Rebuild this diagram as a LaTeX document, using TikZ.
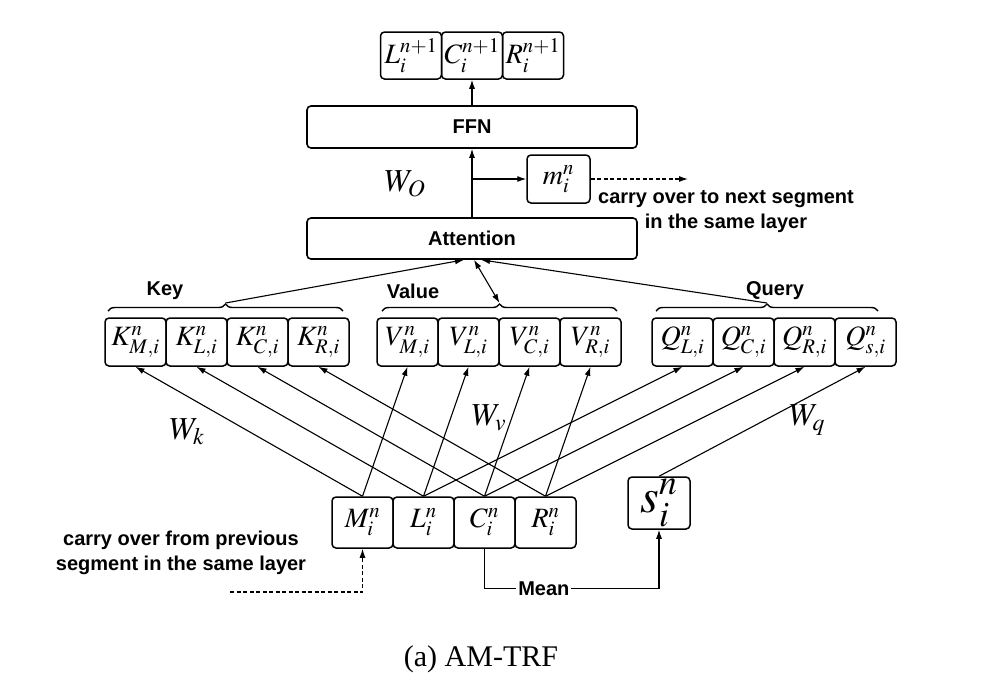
\documentclass[tikz,border=0pt]{standalone}
\usepackage{mathptmx}
\usepackage{fontspec}
\setmainfont{Liberation Serif}
\newfontfamily\lblfont{Liberation Sans}
\usetikzlibrary{arrows.meta,decorations.pathreplacing}
\tikzset{
  cell/.style={draw, line width=1.5pt, rounded corners=4pt, inner sep=0pt, minimum width=61pt, minimum height=48pt},
  widebox/.style={draw, line width=1.6pt, rounded corners=4pt, inner sep=0pt, minimum width=330pt, minimum height=42pt, font=\lblfont\bfseries\fontsize{20}{24}\selectfont},
  lbl/.style={font=\lblfont\bfseries\fontsize{20}{25}\selectfont, inner sep=1pt},
  mth/.style={font=\fontsize{28}{32}\selectfont},
  mthb/.style={font=\fontsize{28}{32}\selectfont},
  mthw/.style={font=\fontsize{32}{36}\selectfont},
  arr/.style={-{Latex[length=9pt,width=6pt]}, line width=1.1pt},
  dblarr/.style={{Latex[length=9pt,width=6pt]}-{Latex[length=9pt,width=6pt]}, line width=1.1pt},
  brc/.style={decorate, decoration={brace,amplitude=7pt}, line width=1.4pt},
  dsh/.style={dash pattern=on 4pt off 2.5pt},
}
\begin{document}
\begin{tikzpicture}[x=1pt,y=-1pt]
\useasboundingbox (0,0) rectangle (985,689);
% top output boxes
\node[cell,mth,minimum height=47pt] (ln1) at (411,55.5) {$L^{n+1}_i$};
\node[cell,mth,minimum height=47pt] (cn1) at (472,55.5) {$C^{n+1}_i$};
\node[cell,mth,minimum height=47pt] (rn1) at (533,55.5) {$R^{n+1}_i$};
% FFN and attention
\node[widebox] (ffn) at (472,127) {FFN};
\node[widebox, minimum height=41pt] (att) at (472,238.5) {Attention};
\node[cell,mth,minimum width=63pt] (mb) at (558.5,179) {$m^n_i$};
\coordinate (mout) at (688,179);
\node[lbl, align=center] (carry1) at (726,212) {carry over to next segment\\in the same layer};
\node[mthw] (wo) at (405,184) {$W_O$};
\draw[arr] (ffn.north) -- (cn1.south);
\draw[arr] (att.north) -- (ffn.south);
\draw[arr] (att.north |- mb.west) -- (mb.west);
\draw[arr, dsh] (mb.east) -- (mout);
% key / value / query boxes
\node[cell,mth] (km) at (135.5,342) {$K^n_{M,i}$};
\node[cell,mth] (kl) at (196.5,342) {$K^n_{L,i}$};
\node[cell,mth] (kc) at (257.5,342) {$K^n_{C,i}$};
\node[cell,mth] (kr) at (318.5,342) {$K^n_{R,i}$};
\node[cell,mth] (vm) at (407.5,342) {$V^n_{M,i}$};
\node[cell,mth] (vl) at (468.5,342) {$V^n_{L,i}$};
\node[cell,mth] (vc) at (529.5,342) {$V^n_{C,i}$};
\node[cell,mth] (vr) at (590.5,342) {$V^n_{R,i}$};
\node[cell,mth] (ql) at (682.5,342) {$Q^n_{L,i}$};
\node[cell,mth] (qc) at (743.5,342) {$Q^n_{C,i}$};
\node[cell,mth] (qr) at (804.5,342) {$Q^n_{R,i}$};
\node[cell,mth] (qs) at (865.5,342) {$Q^n_{s,i}$};
% braces
\coordinate (kb1) at (108,311); \coordinate (kb2) at (343,311);
\coordinate (vb1) at (382,311); \coordinate (vb2) at (617,311);
\coordinate (qb1) at (656,311); \coordinate (qb2) at (878,311);
\coordinate (ktip) at (225.5,303);
\coordinate (vtip) at (499.5,303);
\coordinate (qtip) at (767,303);
\draw[brc] (kb1) -- (kb2);
\draw[brc] (vb1) -- (vb2);
\draw[brc] (qb1) -- (qb2);
\node[lbl] (keyl) at (165,291) {Key};
\node[lbl] (vall) at (413,291) {Value};
\node[lbl] (qryl) at (775,291) {Query};
\draw[arr] (ktip) -- ([xshift=-8pt]att.south);
\draw[dblarr] (vtip) -- ([xshift=2pt]att.south);
\draw[arr] (qtip) -- ([xshift=9pt]att.south);
% bottom input boxes
\node[cell,mthb,minimum height=51pt] (mn) at (362.5,522.5) {$M^n_i$};
\node[cell,mthb,minimum height=51pt] (ln) at (423.5,522.5) {$L^n_i$};
\node[cell,mthb,minimum height=51pt] (cn) at (484.5,522.5) {$C^n_i$};
\node[cell,mthb,minimum height=51pt] (rn) at (545.5,522.5) {$R^n_i$};
\node[cell,minimum width=62pt,minimum height=52pt,font=\fontsize{48}{52}\selectfont] (sb) at (659,503) {$s^n_i$};
% projections
\draw[arr] (mn.north) -- (km.south);
\draw[arr] (mn.north) -- (vm.south);
\draw[arr] (ln.north) -- (kl.south);
\draw[arr] (ln.north) -- (vl.south);
\draw[arr] (ln.north) -- (ql.south);
\draw[arr] (cn.north) -- (kc.south);
\draw[arr] (cn.north) -- (vc.south);
\draw[arr] (cn.north) -- (qc.south);
\draw[arr] (rn.north) -- (kr.south);
\draw[arr] (rn.north) -- (vr.south);
\draw[arr] (rn.north) -- (qr.south);
\draw[arr] (sb.north) -- (qs.south);
\node[mthw] (wk) at (187,432) {$W_k$};
\node[mthw] (wv) at (489,418) {$W_v$};
\node[mthw] (wq) at (807,420) {$W_q$};
% memory from previous segment
\coordinate (prev) at (230,592);
\draw[arr, dsh] (prev) -| (mn.south);
\node[lbl, align=center] (carry2) at (181,553) {carry over from previous\\segment in the same layer};
% mean
\draw[arr] (cn.south) -- ++(0,40) -| node[lbl, pos=0.17, fill=white, inner sep=2pt] (meanl) {Mean} (sb.south);
% caption
\node[font=\fontsize{30}{34}\selectfont] (cap) at (481,659) {(a) AM-TRF};
\end{tikzpicture}
\end{document}
